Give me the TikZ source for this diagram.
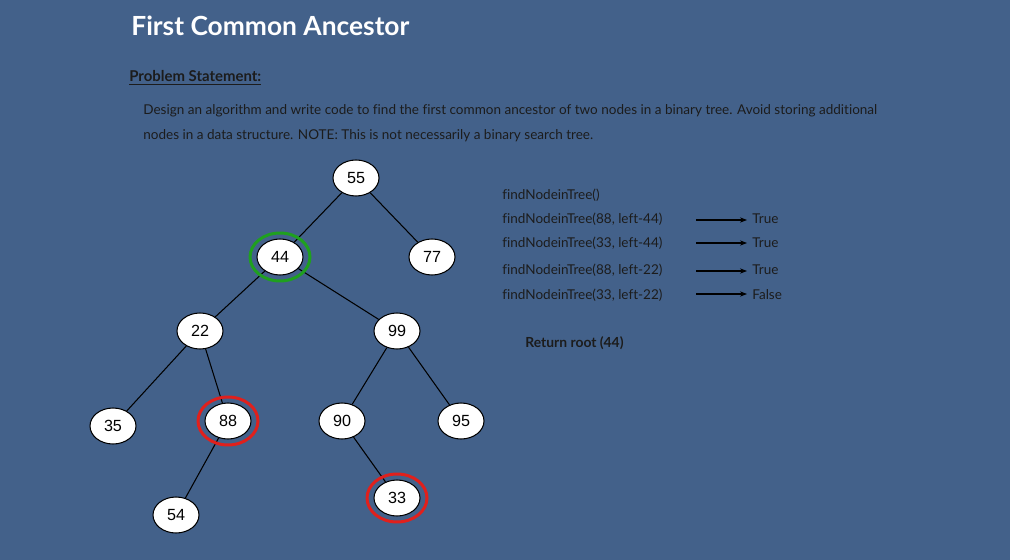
\documentclass[tikz,border=0pt]{standalone}
\usepackage{fontspec}
\setmainfont{Lato}[Ligatures=NoCommon]
\newfontfamily\numfont{Liberation Sans}
\usetikzlibrary{arrows.meta,shapes.geometric}
\definecolor{bg}{HTML}{43618A}
\definecolor{ink}{HTML}{1C1C1C}
\definecolor{ringg}{HTML}{1FA01F}
\definecolor{ringr}{HTML}{E0201C}
\tikzset{
  tnode/.style={ellipse,draw=black,line width=0.6pt,fill=white,minimum width=0.92cm,minimum height=0.72cm,inner sep=0pt,font=\numfont\fontsize{9.2}{10}\selectfont},
  ring/.style={ellipse,draw=#1,line width=1.7pt,minimum width=1.2cm,minimum height=0.96cm,inner sep=0pt},
  edge/.style={draw=black,line width=0.6pt},
  txt/.style={anchor=base west,inner sep=0pt,text=ink,font=\fontsize{7.7}{9}\selectfont},
  ar/.style={-{Stealth[length=4pt,width=3pt]},line width=0.6pt,draw=black,shorten >=0.1cm},
}
\begin{document}
\begin{tikzpicture}[x=0.02cm,y=-0.02cm]
\useasboundingbox[fill=bg] (0,0) rectangle (1010,560);
% heading and statement
\node[anchor=base west,inner sep=0pt,text=white,font=\fontsize{15}{17}\selectfont\bfseries] (title) at (131,36) {First Common Ancestor};
\node[txt,font=\fontsize{8.5}{9}\selectfont\bfseries] (prob) at (129,82) {\underline{Problem Statement:}};
\node[txt] (st1) at (143,115) {Design an algorithm and write code to find the first common ancestor of two nodes in a binary tree. Avoid storing additional};
\node[txt] (st2) at (143,140) {nodes in a data structure. NOTE: This is not necessarily a binary search tree.};
% tree
\node[tnode] (n55) at (356,178) {55};
\node[tnode] (n44) at (280,257) {44};
\node[tnode] (n77) at (432,257) {77};
\node[tnode] (n22) at (200,331) {22};
\node[tnode] (n99) at (397,331) {99};
\node[tnode] (n35) at (113,426) {35};
\node[tnode] (n88) at (228,421) {88};
\node[tnode] (n90) at (342,421) {90};
\node[tnode] (n95) at (461,421) {95};
\node[tnode] (n54) at (176,515) {54};
\node[tnode] (n33) at (397,498) {33};
\draw[edge] (n55)--(n44); \draw[edge] (n55)--(n77);
\draw[edge] (n44)--(n22); \draw[edge] (n44)--(n99);
\draw[edge] (n22)--(n35); \draw[edge] (n22)--(n88);
\draw[edge] (n99)--(n90); \draw[edge] (n99)--(n95);
\draw[edge] (n88)--(n54); \draw[edge] (n90)--(n33);
\node[ring=ringg] (r44) at (n44) {};
\node[ring=ringr] (r88) at (n88) {};
\node[ring=ringr] (r33) at (n33) {};
% calls
\node[txt] (c0) at (502,200) {findNodeinTree()};
\node[txt] (c1) at (502,224) {findNodeinTree(88, left-44)};
\node[txt] (c2) at (502,248) {findNodeinTree(33, left-44)};
\node[txt] (c3) at (502,275) {findNodeinTree(88, left-22)};
\node[txt] (c4) at (502,299) {findNodeinTree(33, left-22)};
\node[txt] (v1) at (752,224) {True};
\node[txt] (v2) at (752,248) {True};
\node[txt] (v3) at (752,275) {True};
\node[txt] (v4) at (752,299) {False};
\coordinate (a1) at (696,220); \coordinate (a2) at (696,243);
\coordinate (a3) at (696,271); \coordinate (a4) at (696,294);
\draw[ar] (a1)--(v1.west|-a1); \draw[ar] (a2)--(v2.west|-a2);
\draw[ar] (a3)--(v3.west|-a3); \draw[ar] (a4)--(v4.west|-a4);
\node[txt,font=\fontsize{7.9}{9}\selectfont\bfseries] (ret) at (525,347) {Return root (44)};
\end{tikzpicture}
\end{document}
